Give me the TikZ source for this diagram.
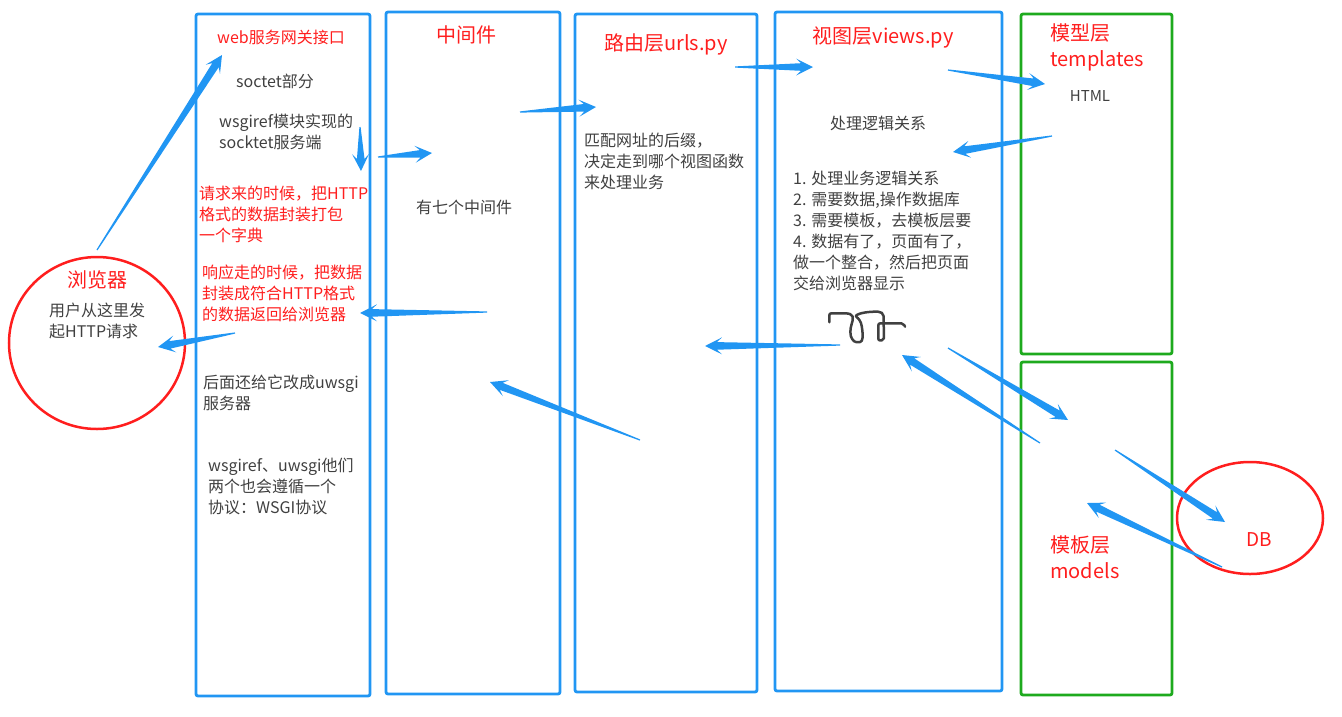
\documentclass[tikz,border=0pt]{standalone}
\usepackage{fontspec}
\setmainfont{Noto Sans CJK SC}
\usetikzlibrary{calc}
\usetikzlibrary{positioning}
\usetikzlibrary{shapes.geometric}

\definecolor{layerblue}{RGB}{33,150,243}
\definecolor{layergreen}{RGB}{30,170,30}
\definecolor{titlered}{RGB}{255,30,30}
\definecolor{bodygray}{RGB}{64,64,64}

\tikzset{
  layer/.style={draw=layerblue, line width=2.8pt, rounded corners=2pt, inner sep=0pt},
  modelbox/.style={layer, draw=layergreen},
  ring/.style={ellipse, draw=titlered, line width=2.5pt, inner sep=0pt},
  title/.style={text=titlered, font=\fontsize{20}{26}\selectfont, inner sep=0pt},
  body/.style={text=bodygray, font=\fontsize{16}{21}\selectfont, inner sep=0pt, align=left, anchor=north west},
  redbody/.style={body, text=titlered},
  scribble/.style={draw=bodygray, line width=2.5pt, line cap=round, line join=round, rounded corners=2pt}
}

% tapered blue arrow from #1 to #2
\newcommand\taper[2]{%
  \fill[layerblue] let \p1=($(#2)-(#1)$), \n1={atan2(\y1,\x1)}, \n2={veclen(\x1,\y1)} in
    [shift={(#1)}, rotate=\n1] (0pt,0.6pt) -- ({\n2-12pt},3.8pt) -- ({\n2-17pt},8.5pt)
    -- ({\n2+0pt},0pt) -- ({\n2-17pt},-8.5pt) -- ({\n2-12pt},-3.8pt) -- (0pt,-0.6pt) -- cycle;}

\begin{document}
\begin{tikzpicture}[x=1pt, y=-1pt]
  \useasboundingbox (0,0) rectangle (1342,716);

  % layers
  \node[layer, minimum width=174pt, minimum height=682pt] (gw) at (283,355) {};
  \node[layer, minimum width=174pt, minimum height=682pt] (mw) at (473,353) {};
  \node[layer, minimum width=182pt, minimum height=678pt] (url) at (666,353) {};
  \node[layer, minimum width=227pt, minimum height=679pt] (view) at (888.5,351.5) {};
  \node[modelbox, minimum width=151pt, minimum height=340pt] (tpl) at (1096.5,184) {};
  \node[modelbox, minimum width=151pt, minimum height=333pt] (mdl) at (1096.5,528.5) {};
  \node[ring, minimum width=176pt, minimum height=172pt] (brw) at (97,343) {};
  \node[ring, minimum width=146pt, minimum height=112pt] (db) at (1250,518) {};

  % web gateway
  \node[title, font=\fontsize{16}{20}\selectfont] (gw-title) at (281,37) {web服务网关接口};
  \node[body, anchor=center] (gw-sock) at (275,81) {soctet部分};
  \node[body] (gw-ref) at (219,114) {wsgiref模块实现的\\socktet服务端};
  \node[redbody] (gw-req) at (199,186) {请求来的时候，把HTTP\\格式的数据封装打包\\一个字典};
  \node[redbody] (gw-resp) at (202,265) {响应走的时候，把数据\\封装成符合HTTP格式\\的数据返回给浏览器};
  \node[body] (gw-uwsgi) at (203,375) {后面还给它改成uwsgi\\服务器};
  \node[body] (gw-wsgi) at (208,458) {wsgiref、uwsgi他们\\两个也会遵循一个\\协议：WSGI协议};

  % middleware
  \node[title] (mw-title) at (466,35) {中间件};
  \node[body, anchor=center] (mw-count) at (464,207) {有七个中间件};

  % urls
  \node[title] (url-title) at (666,44) {路由层urls.py};
  \node[body] (url-text) at (584,133) {匹配网址的后缀，\\决定走到哪个视图函数\\来处理业务};

  % views
  \node[title] (view-title) at (883,37) {视图层views.py};
  \node[body, anchor=center] (view-logic) at (878,123) {处理逻辑关系};
  \node[body] (view-steps) at (793,171) {1. 处理业务逻辑关系\\2. 需要数据,操作数据库\\3. 需要模板，去模板层要\\4. 数据有了，页面有了，\\做一个整合，然后把页面\\交给浏览器显示};

  % templates, models, db, browser
  \node[title, align=left, anchor=north west] (tpl-title) at (1050,23) {模型层\\templates};
  \node[body, font=\fontsize{15}{18}\selectfont, anchor=center] (tpl-html) at (1090,96) {HTML};
  \node[title, align=left, anchor=north west] (mdl-title) at (1050,535) {模板层\\models};
  \node[title, font=\fontsize{19}{24}\selectfont] (db-title) at (1259,540) {DB};
  \node[title] (brw-title) at (97,280) {浏览器};
  \node[body] (brw-text) at (49,303) {用户从这里发\\起HTTP请求};

  % scribble
  \draw[scribble] (829.3,322.3) -- (829.3,313.3) -- (848,313.3)
    .. controls (856,316) and (851,324) .. (850.5,330)
    .. controls (850,338) and (854,342) .. (858,342)
    .. controls (863,342) and (863,335) .. (862,328)
    .. controls (861,321) and (858,318) .. (855,316)
    .. controls (860,313) and (868,311.5) .. (880,311.7)
    -- (883.5,314) -- (884,340) -- (878.3,340.7) -- (878.3,323.3) -- (903.3,323.3) -- (905,326.7);

  % arrow ends
  \coordinate (brw-out) at (97,250);   \coordinate (gw-in) at (222,55);
  \coordinate (gw-down) at (360,127);  \coordinate (gw-low) at (361,171);
  \coordinate (gw-out) at (378,157);   \coordinate (mw-in) at (432,153);
  \coordinate (mw-out) at (520,112);   \coordinate (url-in) at (596,107);
  \coordinate (url-out) at (735,67);   \coordinate (view-in) at (813,67);
  \coordinate (view-tpl) at (948,70);  \coordinate (tpl-in) at (1045,84);
  \coordinate (tpl-out) at (1052,136); \coordinate (view-back) at (953,152);
  \coordinate (view-out) at (840,345); \coordinate (url-back) at (705,346);
  \coordinate (url-out2) at (640,440); \coordinate (mw-back) at (490,382);
  \coordinate (mw-out2) at (487,312);  \coordinate (gw-back) at (360,313);
  \coordinate (gw-out2) at (235,333);  \coordinate (brw-in) at (158,347);
  \coordinate (view-mdl) at (948,348); \coordinate (mdl-in) at (1068,420);
  \coordinate (mdl-out) at (1040,443); \coordinate (view-in2) at (902,355);
  \coordinate (mdl-db) at (1115,450);  \coordinate (db-in) at (1225,522);
  \coordinate (db-out) at (1222,567);  \coordinate (mdl-in2) at (1087,503);

  \taper{brw-out}{gw-in}
  \taper{gw-down}{gw-low}
  \taper{gw-out}{mw-in}
  \taper{mw-out}{url-in}
  \taper{url-out}{view-in}
  \taper{view-tpl}{tpl-in}
  \taper{tpl-out}{view-back}
  \taper{view-out}{url-back}
  \taper{url-out2}{mw-back}
  \taper{mw-out2}{gw-back}
  \taper{gw-out2}{brw-in}
  \taper{view-mdl}{mdl-in}
  \taper{mdl-out}{view-in2}
  \taper{mdl-db}{db-in}
  \taper{db-out}{mdl-in2}
\end{tikzpicture}
\end{document}
